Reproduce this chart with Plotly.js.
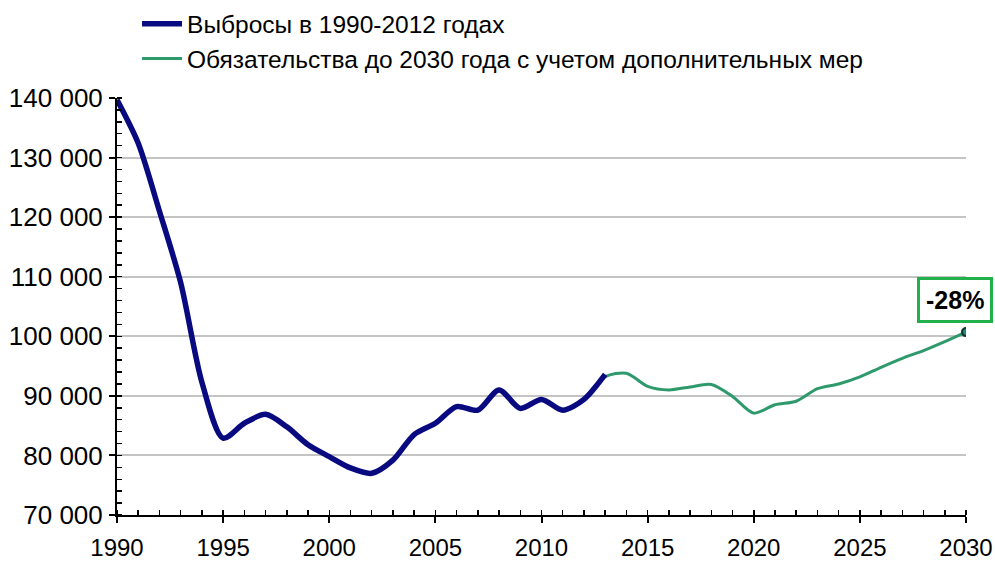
<!DOCTYPE html>
<html>
<head>
<meta charset="utf-8">
<script src="https://cdn.plot.ly/plotly-3.0.1.min.js"></script>
<style>html,body{margin:0;padding:0;background:#fff;}#chart{width:995px;height:563px;}</style>
</head>
<body>
<div id="chart"></div>
<script>
const histYears = [1990,1991,1992,1993,1994,1995,1996,1997,1998,1999,2000,2001,2002,2003,2004,2005,2006,2007,2008,2009,2010,2011,2012,2013];
const histValues = [139700,132400,121000,109000,92300,82900,85400,86900,84800,81800,79800,77900,77000,79200,83500,85400,88200,87600,91000,87900,89400,87600,89400,93600];
const projYears = [2012,2013,2014,2015,2016,2017,2018,2019,2020,2021,2022,2023,2024,2025,2026,2027,2028,2029,2030];
const projValues = [89400,93200,93800,91600,91000,91500,91900,89900,87100,88500,89100,91200,92000,93200,94800,96300,97600,99100,100700];
const histName = 'Выбросы в 1990-2012 годах';
const projName = 'Обязательства до 2030 года с учетом дополнительных мер';
const yTickVals = [70000,80000,90000,100000,110000,120000,130000,140000];
const yTickText = ['70 000','80 000','90 000','100 000','110 000','120 000','130 000','140 000'];
const xTickVals = [1990,1995,2000,2005,2010,2015,2020,2025,2030];
const endLabel = '-28%';

const traces = [
  {x: projYears, y: projValues, name: projName, type: 'scatter', mode: 'lines', legendrank: 2,
   line: {color: '#2e9a6c', width: 3, shape: 'spline', smoothing: 0.8}},
  {x: histYears, y: histValues, name: histName, type: 'scatter', mode: 'lines', legendrank: 1,
   line: {color: '#0a0a80', width: 5.5, shape: 'spline', smoothing: 0.8}},
  {x: [projYears[projYears.length-1]], y: [projValues[projValues.length-1]], type: 'scatter', mode: 'markers',
   showlegend: false, marker: {color: '#1a8a80', size: 8, line: {color: '#10302a', width: 2}}}
];

const layout = {
  width: 995, height: 563,
  margin: {l: 117, r: 29, t: 98, b: 48, autoexpand: false},
  paper_bgcolor: '#fff', plot_bgcolor: '#fff',
  font: {family: 'Liberation Sans, Arial, sans-serif', size: 25, color: '#000'},
  showlegend: true,
  legend: {x: 0.0236, y: 1.232, xanchor: 'left', yanchor: 'top', traceorder: 'normal',
           bgcolor: 'rgba(0,0,0,0)', font: {size: 24.5, color: '#000'}, itemwidth: 40, tracegroupgap: 0},
  xaxis: {range: [1990, 2030], tickvals: xTickVals, ticktext: xTickVals.map(String),
          showgrid: false, zeroline: false, showline: true, linecolor: '#000', linewidth: 2,
          ticks: 'outside', ticklen: 6, tickwidth: 2, tickcolor: '#000',
          ticklabelstandoff: 4, tickfont: {size: 24}, automargin: false,
          minor: {dtick: 1, ticks: 'inside', ticklen: 5, tickwidth: 1.5, tickcolor: '#000', showgrid: false}},
  yaxis: {range: [70000, 140000], tickvals: yTickVals, ticktext: yTickText,
          showgrid: true, gridcolor: '#c4c4c4', gridwidth: 2, zeroline: false,
          showline: true, linecolor: '#000', linewidth: 2,
          ticks: 'outside', ticklen: 6, tickwidth: 2, tickcolor: '#000',
          ticklabelstandoff: 1, tickfont: {size: 26}, automargin: false,
          minor: {dtick: 2000, ticks: 'inside', ticklen: 5, tickwidth: 1.5, tickcolor: '#000', showgrid: false}},
  annotations: [{x: projYears[projYears.length-1], y: projValues[projValues.length-1],
    xref: 'x', yref: 'y', text: '<b>' + endLabel + '</b>', showarrow: false,
    xanchor: 'center', yanchor: 'bottom', xshift: -11, yshift: 9,
    font: {size: 25, color: '#000'}, bordercolor: '#22b04a', borderwidth: 3, borderpad: 6,
    bgcolor: '#fff'}]
};

Plotly.newPlot('chart', traces, layout, {displayModeBar: false, staticPlot: true});
</script>
</body>
</html>
